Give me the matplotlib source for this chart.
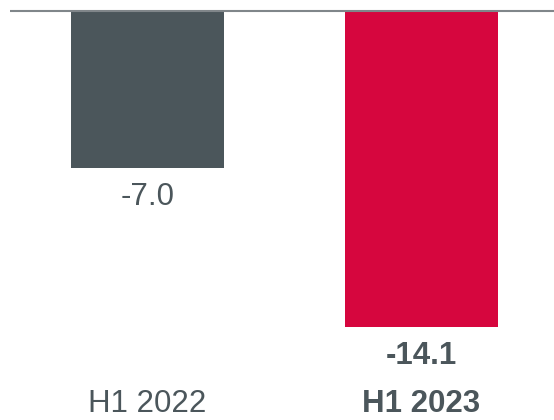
import matplotlib.pyplot as plt
import matplotlib.transforms as mtransforms

periodes = ['H1 2022', 'H1 2023']
valeurs = [-7.0, -14.1]
couleurs = ['#4b565b', '#d6063e']
gras = [False, True]

texte = '#4b565b'
plt.rcParams['font.family'] = ['Liberation Sans', 'DejaVu Sans']

fig = plt.figure(figsize=(5.54, 4.20), dpi=100)
ax = fig.add_axes([0, 0, 1, 1])
ax.set_xlim(-0.538, 1.484)
ax.set_ylim(-18.24, 0.513)
ax.axis('off')

x = list(range(len(periodes)))
ax.bar(x, valeurs, width=0.558, color=couleurs, zorder=2)

# ligne du zero
ax.plot([-0.5, 1.484], [0, 0], color='#80868a', lw=1.5, zorder=3, solid_capstyle='butt')

bas = mtransforms.blended_transform_factory(ax.transData, fig.transFigure)
for i, v in enumerate(valeurs):
    poids = 'bold' if gras[i] else 'normal'
    ax.annotate(f'{v:.1f}', (i, v), xytext=(0, -21), textcoords='offset points',
                ha='center', va='center', fontsize=22.5, color=texte, fontweight=poids)
    ax.text(i, 1 - 404 / 420, periodes[i], transform=bas, ha='center', va='center',
            fontsize=22.5, color=texte, fontweight=poids)

fig.savefig('out.png', dpi=100)
